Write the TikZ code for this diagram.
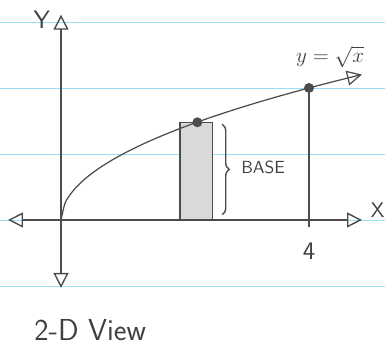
\documentclass[tikz,border=0pt]{standalone}
\usetikzlibrary{arrows.meta,decorations.pathreplacing}
\tikzset{
  pencil/.style = {draw=black!70, line width=0.8pt},
  axis/.style   = {pencil, {Triangle[open,length=3mm,width=3mm]}-{Triangle[open,length=3mm,width=3mm]}},
  rule/.style   = {draw=cyan!40, line width=0.5pt},
  dot/.style    = {circle, fill=black!70, inner sep=0pt, minimum size=2mm},
  lbl/.style    = {text=black!75, font=\sffamily}
}
\begin{document}
\begin{tikzpicture}[x=1.24cm, y=1.32cm]
\useasboundingbox (-0.984,-1.894) rectangle (5.226,3.333);
% ruled paper
\foreach \y in {-1,...,3}
  \draw[rule] (-0.984,\y) -- (5.226,\y);
% axes
\coordinate (xl) at (-0.855,0);
\coordinate (xr) at (4.855,0);
\coordinate (yb) at (0,-1.03);
\coordinate (yt) at (0,3.11);
\draw[axis] (xl) -- (xr);
\draw[axis] (yb) -- (yt);
\node[lbl, font=\sffamily\Large] (ylab) at (-0.31,3.03) {Y};
\node[lbl, font=\sffamily\large, inner sep=1pt] (xlab) at (5.11,0.15) {X};
% slice
\draw[pencil, fill=black!15] (1.92,0) rectangle (2.44,1.48);
\draw[pencil, line width=0.7pt, -{Triangle[open,length=3mm,width=3mm]}]
  plot[domain=0:4.855, samples=80, smooth] (\x,{sqrt(\x)});
\node[dot] (top) at (2.2,1.48) {};
\draw[pencil, decorate, decoration={brace, amplitude=4pt}]
  (2.6,1.45) -- (2.6,0.08);
\node[lbl] (base) at (3.26,0.8) {BASE};
% x = 4
\node[dot] (p4) at (4,2) {};
\coordinate (t4) at (4,0);
\draw[pencil] (p4) -- (t4);
\draw[pencil] (4,-0.1) -- (4,0.1);
\node[lbl, font=\sffamily\Large] (four) at (4,-0.48) {4};
\node[lbl, font=\sffamily\large] (curve) at (4.34,2.47) {$y=\sqrt{x}$};
\node[lbl, font=\sffamily\LARGE] (title) at (0.47,-1.67) {2-D View};
\end{tikzpicture}
\end{document}
